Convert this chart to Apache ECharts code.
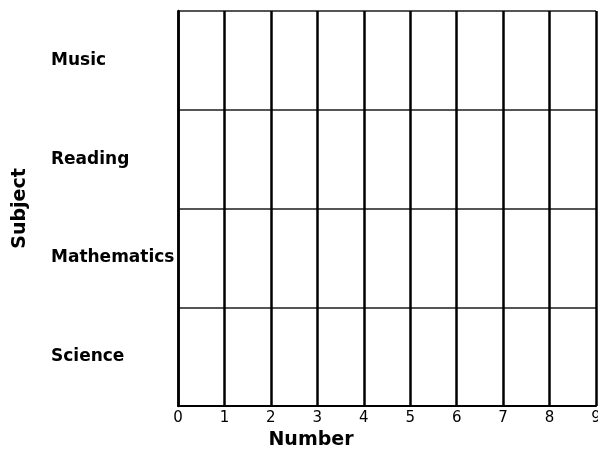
<!DOCTYPE html>
<html>
<head>
<meta charset="utf-8">
<script src="https://cdn.jsdelivr.net/npm/echarts@6/dist/echarts.min.js"></script>
<style>
  html, body { margin: 0; padding: 0; background: #fff; }
  #chart { width: 598px; height: 450px; }
</style>
</head>
<body>
<div id="chart"></div>
<script>
// subjects, bottom to top
var subjects = ['Science', 'Mathematics', 'Reading', 'Music'];
// no bars are drawn in the picture
var counts = [0, 0, 0, 0];
var xTicks = [0, 1, 2, 3, 4, 5, 6, 7, 8, 9];

var myChart = echarts.init(document.getElementById('chart'));
var option = {
  animation: false,
  backgroundColor: '#fff',
  grid: { left: 178, right: 2, top: 11, bottom: 44, outerBoundsMode: 'none', containLabel: false },
  xAxis: {
    type: 'value',
    min: xTicks[0],
    max: xTicks[xTicks.length - 1],
    interval: 1,
    name: 'Number',
    nameLocation: 'middle',
    nameGap: 22,
    nameTextStyle: {
      fontFamily: 'DejaVu Sans', fontWeight: 'bold', fontSize: 19, color: '#000',
      padding: [0, 152, 0, 0]
    },
    axisLine: { show: true, lineStyle: { color: '#000', width: 2 } },
    axisTick: { show: false },
    axisLabel: { fontFamily: 'DejaVu Sans', fontSize: 15, color: '#000', margin: 5 },
    splitLine: { show: true, lineStyle: { color: '#000', width: 2.5 } }
  },
  yAxis: {
    type: 'category',
    data: subjects,
    name: 'Subject',
    nameLocation: 'middle',
    nameGap: 148,
    nameRotate: 90,
    nameTextStyle: { fontFamily: 'DejaVu Sans', fontWeight: 'bold', fontSize: 19, color: '#000' },
    axisLine: { show: true, lineStyle: { color: '#000', width: 2.5 } },
    axisTick: { show: false },
    axisLabel: {
      fontFamily: 'DejaVu Sans', fontWeight: 'bold', fontSize: 17, color: '#000',
      align: 'left', margin: 127
    },
    splitLine: { show: true, interval: 0, lineStyle: { color: '#555', width: 2 } }
  },
  series: [{
    type: 'bar',
    data: counts,
    barWidth: '60%',
    itemStyle: { color: '#000' }
  }]
};
myChart.setOption(option);
</script>
</body>
</html>
